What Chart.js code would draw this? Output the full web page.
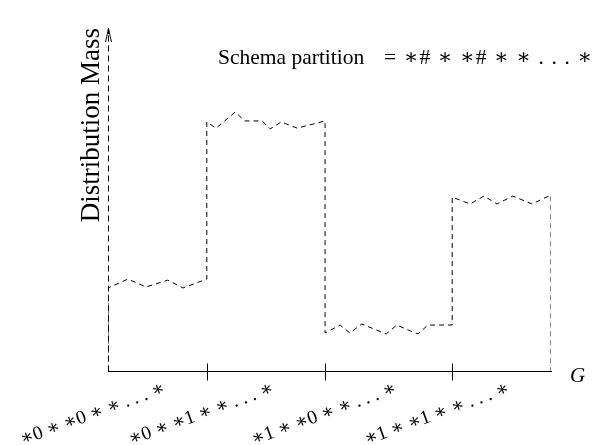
<!DOCTYPE html>
<html>
<head>
<meta charset="utf-8">
<script src="https://cdn.jsdelivr.net/npm/chart.js@4.4.1/dist/chart.umd.min.js"></script>
<style>
  html, body { margin: 0; padding: 0; background: #fff; }
  canvas { display: block; }
</style>
</head>
<body>
<canvas id="mass" width="595" height="445"></canvas>
<script>
// Schema partitions along G (fraction of the genotype space)
const partitionLabels = ['∗0 ∗ ∗0 ∗ ∗ . . . ∗', '∗0 ∗ ∗1 ∗ ∗ . . . ∗', '∗1 ∗ ∗0 ∗ ∗ . . . ∗', '∗1 ∗ ∗1 ∗ ∗ . . . ∗'];
const partitionEdges = [0, 0.223, 0.490, 0.777, 1];

// Distribution mass profile, stepped per partition with small noise on top
const massG = [
  0, 0, 0.045, 0.086, 0.135, 0.169, 0.223,
  0.223, 0.244, 0.287, 0.309, 0.348, 0.366, 0.391, 0.427, 0.490,
  0.490, 0.524, 0.546, 0.573, 0.605, 0.628, 0.652, 0.682, 0.700, 0.722, 0.777,
  0.777, 0.817, 0.849, 0.878, 0.914, 0.957, 1, 1
];
const massValues = [
  0, 0.242, 0.268, 0.245, 0.265, 0.242, 0.268,
  0.726, 0.708, 0.755, 0.729, 0.729, 0.706, 0.726, 0.708, 0.729,
  0.111, 0.134, 0.111, 0.137, 0.120, 0.108, 0.134, 0.117, 0.108, 0.134, 0.134,
  0.507, 0.487, 0.510, 0.487, 0.510, 0.487, 0.513, 0
];

const titleWords = 'Schema partition';
const titlePattern = '= ∗# ∗ ∗# ∗ ∗ . . . ∗';
const serif = '"Liberation Serif", "DejaVu Serif", serif';

const partitionCenters = partitionLabels.map((_, i) => (partitionEdges[i] + partitionEdges[i + 1]) / 2);

// dashed mass axis with arrowhead, boundary ticks across G, title and G
const decorations = {
  id: 'decorations',
  afterDraw(chart) {
    const g = chart.ctx;
    const xs = chart.scales.x;
    const area = chart.chartArea;
    const axisY = Math.round(area.bottom) + 0.5;
    const ax = Math.round(area.left) + 0.5;
    const top = area.top;
    g.save();
    g.strokeStyle = '#000';
    g.lineWidth = 1;

    g.setLineDash([6, 4]);
    g.beginPath();
    g.moveTo(ax, axisY);
    g.lineTo(ax, top + 2);
    g.stroke();
    g.setLineDash([]);

    partitionEdges.slice(1, -1).forEach(v => {
      const px = Math.round(xs.getPixelForValue(v)) + 0.5;
      g.beginPath();
      g.moveTo(px, axisY - 8);
      g.lineTo(px, axisY + 9);
      g.stroke();
    });

    g.beginPath();
    g.moveTo(ax - 3, top + 14);
    g.quadraticCurveTo(ax - 1, top + 6, ax, top);
    g.quadraticCurveTo(ax + 1, top + 6, ax + 3, top + 14);
    g.moveTo(ax, top);
    g.lineTo(ax, top + 6);
    g.stroke();

    g.fillStyle = '#000';
    g.font = '21.5px ' + serif;
    g.textBaseline = 'alphabetic';
    g.textAlign = 'left';
    g.fillText(titleWords, 218, 64);
    // spread the schema pattern out to the right edge, like math spacing
    const plain = g.measureText(titlePattern).width;
    const chars = [...titlePattern].length;
    g.letterSpacing = ((592 - 384 - plain) / (chars - 1)).toFixed(2) + 'px';
    g.fillText(titlePattern, 384, 64);
    g.letterSpacing = '0px';

    g.font = 'italic 21px ' + serif;
    g.fillText('G', 570, 382);
    g.restore();
  }
};

new Chart(document.getElementById('mass'), {
  type: 'line',
  data: {
    datasets: [{
      data: massG.map((x, i) => ({ x, y: massValues[i] })),
      borderColor: '#000',
      borderWidth: 1,
      borderDash: [5, 4],
      pointRadius: 0,
      tension: 0,
      fill: false
    }]
  },
  options: {
    responsive: false,
    animation: false,
    devicePixelRatio: 1,
    layout: { padding: { left: 0, right: 44, top: 28, bottom: 0 } },
    plugins: { legend: { display: false }, tooltip: { enabled: false } },
    scales: {
      x: {
        type: 'linear',
        min: 0,
        max: 1,
        afterFit: s => { s.height = 74; s.paddingLeft = 0; s.paddingRight = 0; },
        afterBuildTicks: s => { s.ticks = partitionCenters.map(value => ({ value })); },
        grid: { display: true, drawOnChartArea: false, drawTicks: false },
        border: { display: true, color: '#000', width: 1 },
        ticks: {
          color: '#000',
          font: { family: serif, size: 19.5 },
          minRotation: 20,
          maxRotation: 20,
          autoSkip: false,
          padding: 6,
          labelOffset: 7,
          callback: (v, i) => partitionLabels[i]
        }
      },
      y: {
        min: 0,
        max: 1,
        afterFit: s => { s.width = 108; },
        grid: { display: false },
        border: { display: false },
        ticks: { display: false },
        title: {
          display: true,
          text: 'Distribution Mass',
          align: 'end',
          color: '#000',
          font: { family: serif, size: 27 },
          padding: { top: 76, bottom: 0 }
        }
      }
    }
  },
  plugins: [decorations]
});
</script>
</body>
</html>
